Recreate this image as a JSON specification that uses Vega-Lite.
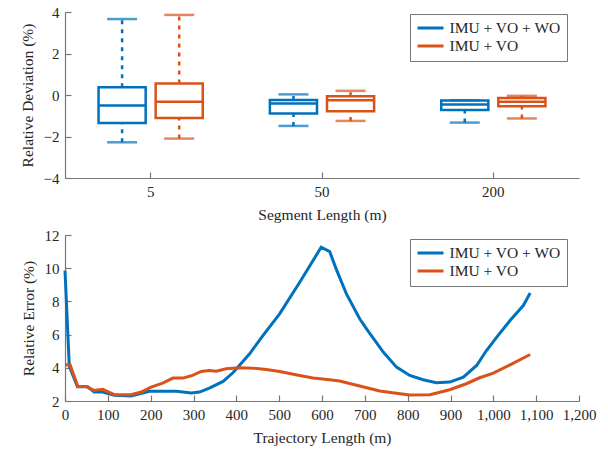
{
  "$schema": "https://vega.github.io/schema/vega-lite/v6.json",
  "padding": {"left": 20, "top": 5, "right": 5, "bottom": 5},
  "bounds": "flush",
  "spacing": 57,
  "background": "white",
  "resolve": {"scale": {"color": "independent"}, "legend": {"color": "independent"}},
  "config": {
    "view": {"stroke": null},
    "axis": {
      "grid": false,
      "domainColor": "#777",
      "domainWidth": 1.2,
      "tickColor": "#777",
      "tickWidth": 1.2,
      "tickSize": -6,
      "labelPadding": 12,
      "labelFlush": false,
      "labelOverlap": false,
      "labelFont": "Liberation Serif",
      "labelFontSize": 15,
      "labelColor": "#262626",
      "titleFont": "Liberation Serif",
      "titleFontSize": 15.5,
      "titleFontWeight": "normal",
      "titleColor": "#262626",
      "titlePadding": 8
    },
    "axisX": {"labelAngle": 0},
    "legend": {
      "title": null, "orient": "none",
      "symbolType": "M-2,0H2", "symbolSize": 169, "symbolStrokeWidth": 3, "symbolOffset": 6.5,
      "labelFont": "Liberation Serif", "labelFontSize": 15.5, "labelColor": "#262626",
      "strokeColor": "#777", "fillColor": "white", "padding": 6, "rowPadding": 1, "labelOffset": 11
    }
  },
  "vconcat": [
    {
      "width": 514,
      "height": 166,
      "data": {"values": [
        {"seg": "5", "series": "IMU + VO + WO", "lo": -2.28, "q1": -1.35, "med": -0.51, "q3": 0.37, "hi": 3.66},
        {"seg": "5", "series": "IMU + VO", "lo": -2.1, "q1": -1.11, "med": -0.32, "q3": 0.56, "hi": 3.86},
        {"seg": "50", "series": "IMU + VO + WO", "lo": -1.49, "q1": -0.89, "med": -0.41, "q3": -0.24, "hi": 0.03},
        {"seg": "50", "series": "IMU + VO", "lo": -1.25, "q1": -0.78, "med": -0.25, "q3": -0.06, "hi": 0.2},
        {"seg": "200", "series": "IMU + VO + WO", "lo": -1.33, "q1": -0.72, "med": -0.46, "q3": -0.27, "hi": -0.25},
        {"seg": "200", "series": "IMU + VO", "lo": -1.13, "q1": -0.54, "med": -0.32, "q3": -0.15, "hi": -0.04}
      ]},
      "encoding": {
        "x": {"field": "seg", "type": "nominal", "sort": ["5", "50", "200"],
              "scale": {"paddingInner": 0, "paddingOuter": 0},
              "axis": {"title": "Segment Length (m)"}},
        "xOffset": {"field": "series", "type": "nominal", "sort": ["IMU + VO + WO", "IMU + VO"],
                    "scale": {"paddingInner": 0.175, "paddingOuter": 0.5875}},
        "color": {"field": "series", "type": "nominal",
                  "scale": {"domain": ["IMU + VO + WO", "IMU + VO"], "range": ["#0072BD", "#D95319"]},
                  "legend": {"legendX": 345, "legendY": 2}}
      },
      "layer": [
        {"mark": {"type": "rule", "strokeWidth": 2.5, "strokeDash": [4, 5]},
         "encoding": {"y": {"field": "q3", "type": "quantitative", "scale": {"domain": [-4, 4]},
                            "axis": {"values": [-4, -2, 0, 2, 4], "title": "Relative Deviation (%)"}},
                      "y2": {"field": "hi"}}},
        {"mark": {"type": "rule", "strokeWidth": 2.5, "strokeDash": [4, 5]},
         "encoding": {"y": {"field": "lo", "type": "quantitative"}, "y2": {"field": "q1"}}},
        {"mark": {"type": "bar", "filled": false, "strokeWidth": 2.5},
         "encoding": {"y": {"field": "q1", "type": "quantitative"}, "y2": {"field": "q3"}}},
        {"mark": {"type": "bar", "filled": false, "strokeWidth": 2.5},
         "encoding": {"y": {"field": "med", "type": "quantitative"}, "y2": {"field": "med"}}},
        {"mark": {"type": "tick", "thickness": 2.5, "size": 30, "orient": "horizontal"},
         "encoding": {"y": {"field": "hi", "type": "quantitative"}}},
        {"mark": {"type": "tick", "thickness": 2.5, "size": 30, "orient": "horizontal"},
         "encoding": {"y": {"field": "lo", "type": "quantitative"}}}
      ]
    },
    {
      "width": 514,
      "height": 166,
      "data": {"values": [
        {"x": 0, "y": 9.85, "series": "IMU + VO + WO"},
        {"x": 10, "y": 4.1, "series": "IMU + VO + WO"},
        {"x": 29, "y": 2.86, "series": "IMU + VO + WO"},
        {"x": 53, "y": 2.86, "series": "IMU + VO + WO"},
        {"x": 68, "y": 2.54, "series": "IMU + VO + WO"},
        {"x": 88, "y": 2.54, "series": "IMU + VO + WO"},
        {"x": 115, "y": 2.34, "series": "IMU + VO + WO"},
        {"x": 154, "y": 2.3, "series": "IMU + VO + WO"},
        {"x": 197, "y": 2.58, "series": "IMU + VO + WO"},
        {"x": 260, "y": 2.58, "series": "IMU + VO + WO"},
        {"x": 295, "y": 2.48, "series": "IMU + VO + WO"},
        {"x": 314, "y": 2.54, "series": "IMU + VO + WO"},
        {"x": 337, "y": 2.78, "series": "IMU + VO + WO"},
        {"x": 369, "y": 3.18, "series": "IMU + VO + WO"},
        {"x": 392, "y": 3.7, "series": "IMU + VO + WO"},
        {"x": 407, "y": 4.14, "series": "IMU + VO + WO"},
        {"x": 431, "y": 4.84, "series": "IMU + VO + WO"},
        {"x": 462, "y": 5.94, "series": "IMU + VO + WO"},
        {"x": 501, "y": 7.25, "series": "IMU + VO + WO"},
        {"x": 548, "y": 9.15, "series": "IMU + VO + WO"},
        {"x": 598, "y": 11.26, "series": "IMU + VO + WO"},
        {"x": 618, "y": 11.0, "series": "IMU + VO + WO"},
        {"x": 633, "y": 9.96, "series": "IMU + VO + WO"},
        {"x": 657, "y": 8.45, "series": "IMU + VO + WO"},
        {"x": 688, "y": 6.95, "series": "IMU + VO + WO"},
        {"x": 704, "y": 6.35, "series": "IMU + VO + WO"},
        {"x": 743, "y": 4.95, "series": "IMU + VO + WO"},
        {"x": 774, "y": 4.04, "series": "IMU + VO + WO"},
        {"x": 805, "y": 3.54, "series": "IMU + VO + WO"},
        {"x": 836, "y": 3.28, "series": "IMU + VO + WO"},
        {"x": 867, "y": 3.1, "series": "IMU + VO + WO"},
        {"x": 898, "y": 3.14, "series": "IMU + VO + WO"},
        {"x": 930, "y": 3.44, "series": "IMU + VO + WO"},
        {"x": 961, "y": 4.14, "series": "IMU + VO + WO"},
        {"x": 984, "y": 5.04, "series": "IMU + VO + WO"},
        {"x": 1008, "y": 5.85, "series": "IMU + VO + WO"},
        {"x": 1039, "y": 6.85, "series": "IMU + VO + WO"},
        {"x": 1070, "y": 7.75, "series": "IMU + VO + WO"},
        {"x": 1086, "y": 8.51, "series": "IMU + VO + WO"},
        {"x": 0, "y": 4.18, "series": "IMU + VO"},
        {"x": 12, "y": 4.18, "series": "IMU + VO"},
        {"x": 30, "y": 2.88, "series": "IMU + VO"},
        {"x": 49, "y": 2.88, "series": "IMU + VO"},
        {"x": 68, "y": 2.64, "series": "IMU + VO"},
        {"x": 88, "y": 2.7, "series": "IMU + VO"},
        {"x": 115, "y": 2.38, "series": "IMU + VO"},
        {"x": 154, "y": 2.38, "series": "IMU + VO"},
        {"x": 178, "y": 2.54, "series": "IMU + VO"},
        {"x": 201, "y": 2.84, "series": "IMU + VO"},
        {"x": 228, "y": 3.08, "series": "IMU + VO"},
        {"x": 252, "y": 3.38, "series": "IMU + VO"},
        {"x": 275, "y": 3.38, "series": "IMU + VO"},
        {"x": 295, "y": 3.52, "series": "IMU + VO"},
        {"x": 318, "y": 3.78, "series": "IMU + VO"},
        {"x": 337, "y": 3.84, "series": "IMU + VO"},
        {"x": 353, "y": 3.8, "series": "IMU + VO"},
        {"x": 376, "y": 3.94, "series": "IMU + VO"},
        {"x": 407, "y": 4.0, "series": "IMU + VO"},
        {"x": 439, "y": 3.98, "series": "IMU + VO"},
        {"x": 470, "y": 3.9, "series": "IMU + VO"},
        {"x": 501, "y": 3.78, "series": "IMU + VO"},
        {"x": 548, "y": 3.54, "series": "IMU + VO"},
        {"x": 579, "y": 3.38, "series": "IMU + VO"},
        {"x": 618, "y": 3.28, "series": "IMU + VO"},
        {"x": 641, "y": 3.2, "series": "IMU + VO"},
        {"x": 688, "y": 2.9, "series": "IMU + VO"},
        {"x": 735, "y": 2.6, "series": "IMU + VO"},
        {"x": 782, "y": 2.44, "series": "IMU + VO"},
        {"x": 805, "y": 2.36, "series": "IMU + VO"},
        {"x": 852, "y": 2.38, "series": "IMU + VO"},
        {"x": 898, "y": 2.68, "series": "IMU + VO"},
        {"x": 937, "y": 3.04, "series": "IMU + VO"},
        {"x": 968, "y": 3.4, "series": "IMU + VO"},
        {"x": 1000, "y": 3.68, "series": "IMU + VO"},
        {"x": 1039, "y": 4.18, "series": "IMU + VO"},
        {"x": 1086, "y": 4.8, "series": "IMU + VO"}
      ]},
      "mark": {"type": "line", "strokeWidth": 3},
      "encoding": {
        "x": {"field": "x", "type": "quantitative", "scale": {"domain": [0, 1200], "nice": false},
              "axis": {"values": [0, 100, 200, 300, 400, 500, 600, 700, 800, 900, 1000, 1100, 1200], "format": ",d", "title": "Trajectory Length (m)"}},
        "y": {"field": "y", "type": "quantitative", "scale": {"domain": [2, 12], "nice": false},
              "axis": {"values": [2, 4, 6, 8, 10, 12], "title": "Relative Error (%)"}},
        "color": {"field": "series", "type": "nominal",
                  "scale": {"domain": ["IMU + VO + WO", "IMU + VO"], "range": ["#0072BD", "#D95319"]},
                  "legend": {"legendX": 345, "legendY": 4}}
      }
    }
  ]
}
